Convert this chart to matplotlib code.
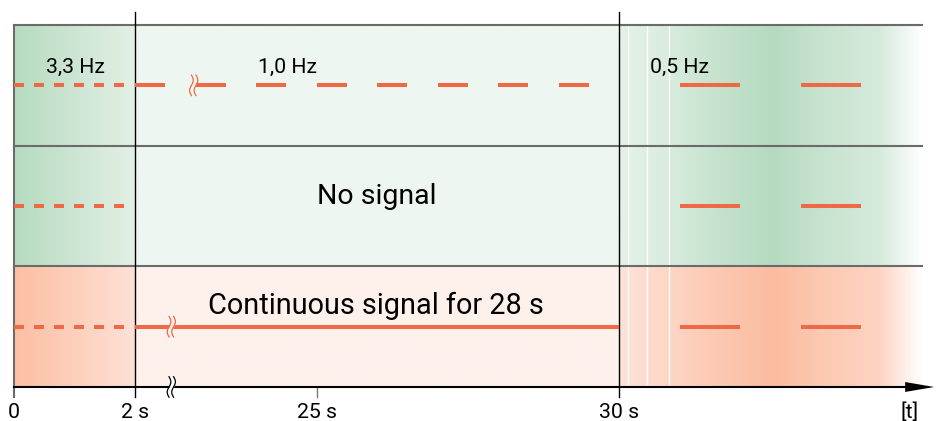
import numpy as np
import matplotlib.pyplot as plt
from matplotlib.colors import to_rgb

plt.rcParams['font.family'] = ['Roboto', 'DejaVu Sans']

# axis ticks (broken time scale: 0, 2 s, 25 s, 30 s)
tick_pos = [0, 2, 5, 10]
tick_labels = ["0", "2 s", "25 s", "30 s"]
t_end = 15.0

# signal rows (top to bottom), centre heights
row_y = [2.5, 1.5, 0.5]

# 3,3 Hz phase (0 - 2 s)
fast_starts = [0.0, 0.33, 0.66, 0.99, 1.32, 1.65]
fast_len = 0.165
# 1,0 Hz phase (2 s - 30 s), top row only
mid_starts = [2, 3, 4, 5, 6, 7, 8, 9]
mid_len = 0.5
# 0,5 Hz phase (after 30 s)
slow_starts = [11, 13]
slow_len = 1.0
# continuous signal, bottom row
cont_span = (2, 10)

freq_labels = ["3,3 Hz", "1,0 Hz", "0,5 Hz"]
freq_x = [1.02, 4.52, 11.0]
row_texts = ["No signal", "Continuous signal for 28 s"]

# break marks (x, row index or -1 for axis)
breaks = [(2.97, 0), (2.6, 2), (2.6, -1)]

orange = '#EE6A47'
fig = plt.figure(figsize=(9.38, 4.21), dpi=100)
ax = fig.add_axes([0, 0, 1, 1])
ax.set_xlim(-14 / 60.5, 924 / 60.5)
ax.set_ylim(-34 / 120.67, 3 + 25 / 120.67)
ax.axis('off')


def grad(x0, x1, y0, y1, stops, cols):
    xs = np.linspace(x0, x1, 400)
    rgb = np.array([to_rgb(c) for c in cols])
    img = np.stack([np.interp(xs, stops, rgb[:, k]) for k in range(3)], axis=-1)
    ax.imshow(img[None, :, :], extent=[x0, x1, y0, y1], aspect='auto',
              interpolation='bilinear', zorder=0)


# backgrounds
grad(0, 2, 1, 3, [0, 2], ['#B6DBC0', '#E3F0E6'])
grad(2, 10, 1, 3, [2, 10], ['#EEF6F0', '#EEF6F0'])
grad(10, t_end, 1, 3, [10, 10.8, 11.6, 12.55, 13.3, 14.3, 15.0],
     ['#E6F2E9', '#D9ECDE', '#C6E3CE', '#B5DAC0', '#C6E3CE', '#D6EADC', '#FFFFFF'])
grad(0, 2, 0, 1, [0, 2], ['#FCBFA3', '#FEE1D6'])
grad(2, 10, 0, 1, [2, 10], ['#FEF1EC', '#FEF1EC'])
grad(10, t_end, 0, 1, [10, 10.8, 11.6, 12.55, 13.3, 14.3, 15.0],
     ['#FEE3D9', '#FDD6C6', '#FCC9B3', '#FBBC9F', '#FCC8B1', '#FDD4C3', '#FFFFFF'])
for xs in [10.15, 10.46, 10.83]:
    ax.plot([xs, xs], [0, 3], color='white', lw=0.9, zorder=1)

# grid lines
for yy in [3, 2, 1]:
    ax.plot([0, t_end], [yy, yy], color='#6B6B6B', lw=1.5, zorder=2)
ax.plot([0, 0], [-0.083, 3], color='#6B6B6B', lw=1.5, zorder=2)
for p in [2, 10]:
    ax.plot([p, p], [-0.083, 3.108], color='black', lw=1.0, zorder=3)
ax.plot([5, 5], [-0.083, 0], color='#777777', lw=1.0, zorder=3)

# time axis with arrow
ax.plot([0, 14.8], [0, 0], color='black', lw=1.5, zorder=4)
ax.fill([14.73, 15.21, 14.73], [0.041, 0, -0.041], color='black', zorder=4,
        lw=0)


def seg(a, b, y):
    ax.plot([a, b], [y, y], color=orange, lw=2.9, solid_capstyle='butt', zorder=5)


for y in row_y:
    for s in fast_starts:
        seg(s, s + fast_len, y)
    for s in slow_starts:
        seg(s, s + slow_len, y)
for s in mid_starts:
    seg(s, s + mid_len, row_y[0])
seg(cont_span[0], cont_span[1], row_y[2])

# break marks
t = np.linspace(-1, 1, 60)
for bx, ri in breaks:
    yc = 0 if ri < 0 else row_y[ri]
    col = 'black' if ri < 0 else orange
    h = 0.085
    a = 0.03
    gap = 0.075
    xl = bx - gap / 2 + a * np.sin(np.pi * t)
    xr = bx + gap / 2 + a * np.sin(np.pi * t)
    yy = yc + h * t
    if ri != 0:
        ax.fill_betweenx(yy, xl, xr, color='white' if ri < 0 else '#FEF1EC',
                         lw=0, zorder=6)
    ax.plot(xl, yy, color=col, lw=0.9, zorder=7)
    ax.plot(xr, yy, color=col, lw=0.9, zorder=7)

# labels
for lab, xx in zip(freq_labels, freq_x):
    ax.text(xx, 2.6, lab, ha='center', va='baseline', fontsize=15.3)
ax.text(6.0, 1.514, row_texts[0], ha='center', va='baseline', fontsize=20.5)
ax.text(5.98, 0.605, row_texts[1], ha='center', va='baseline', fontsize=20.8)

for p, lab in zip(tick_pos, tick_labels):
    ax.text(p, -0.257, lab, ha='center', va='baseline', fontsize=15.3)
ax.text(14.81, -0.257, "[t]", ha='center', va='baseline', fontsize=15.3)

fig.savefig('out.png', dpi=100)
